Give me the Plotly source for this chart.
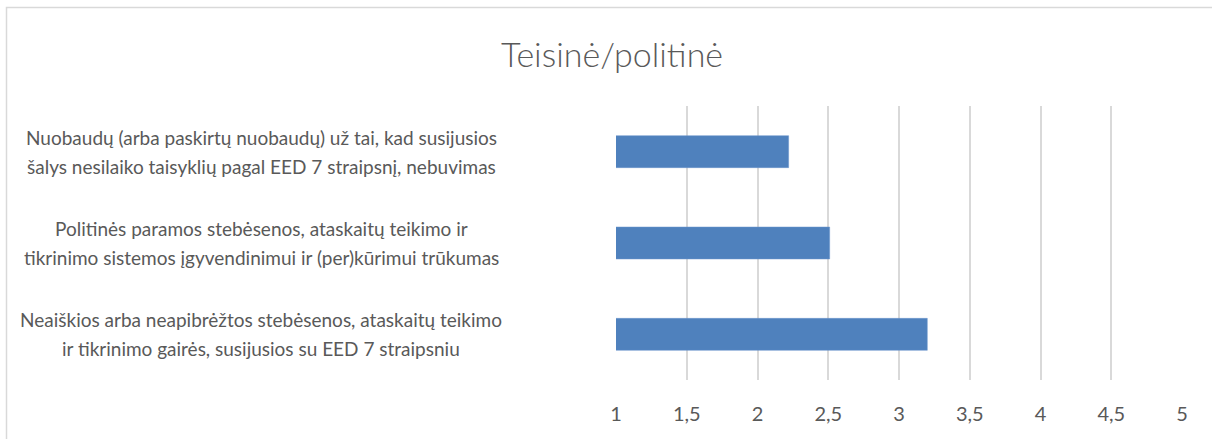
import plotly.graph_objects as go

title = "Teisinė/politinė"
categories = [
    "Neaiškios arba neapibrėžtos stebėsenos, ataskaitų teikimo<br>ir tikrinimo gairės, susijusios su EED 7 straipsniu",
    "Politinės paramos stebėsenos, ataskaitų teikimo ir<br>tikrinimo sistemos įgyvendinimui ir (per)kūrimui trūkumas",
    "Nuobaudų (arba paskirtų nuobaudų) už tai, kad susijusios<br>šalys nesilaiko taisyklių pagal EED 7 straipsnį, nebuvimas",
]
values = [3.20, 2.51, 2.22]
tick_vals = [1, 1.5, 2, 2.5, 3, 3.5, 4, 4.5, 5]
tick_text = ["1", "1,5", "2", "2,5", "3", "3,5", "4", "4,5", "5"]

W, H = 1212, 439
ML, MR, MT, MB = 616, 30, 106, 59
PW = W - ML - MR
PH = H - MT - MB

FONT = "Lato"
GREY = "#595959"

fig = go.Figure()
fig.add_trace(go.Bar(
    y=categories, x=values, orientation="h",
    marker=dict(color="#4f81bd", line=dict(color="#6a95cc", width=0.5)),
    hoverinfo="x+y",
))

annotations = []
for cat in categories:
    lines = cat.split("<br>")
    n = len(lines)
    for i, ln in enumerate(lines):
        shift = (n - 1) / 2 * 29 - i * 29
        annotations.append(dict(
            x=(261 - ML) / PW, xref="paper", xanchor="center",
            y=cat, yref="y", yanchor="middle", yshift=shift,
            text=ln, showarrow=False, align="center",
            font=dict(family=FONT, size=19, color=GREY),
        ))

fig.update_layout(
    width=W, height=H,
    margin=dict(l=ML, r=MR, t=MT, b=MB),
    paper_bgcolor="white", plot_bgcolor="white",
    title=dict(text=title, x=612 / W, xanchor="center", y=1 - 55 / H, yanchor="middle",
               font=dict(family=FONT, size=34, color=GREY, weight=300)),
    bargap=0.65,
    showlegend=False,
    xaxis=dict(range=[1, 5], tickvals=tick_vals, ticktext=tick_text,
               showgrid=True, gridcolor="#d9d9d9", gridwidth=1.5,
               zeroline=False, showline=False, ticks="",
               ticklabelstandoff=20,
               tickfont=dict(family=FONT, size=20, color=GREY)),
    yaxis=dict(showticklabels=False, showgrid=False, zeroline=False, showline=False,
               range=[-0.5, 2.5]),
    annotations=annotations,
    shapes=[dict(type="rect", xref="paper", yref="paper",
                 x0=(6.5 - ML) / PW, x1=(W + 20 - ML) / PW,
                 y0=-(H + 20 - MT - PH) / PH, y1=1 + (MT - 7.5) / PH,
                 line=dict(color="#d9d9d9", width=1.5), layer="below")],
)

fig.write_html("out.html", config={"displayModeBar": False},
               post_script="document.body.style.margin='0';document.body.style.overflow='hidden';")
